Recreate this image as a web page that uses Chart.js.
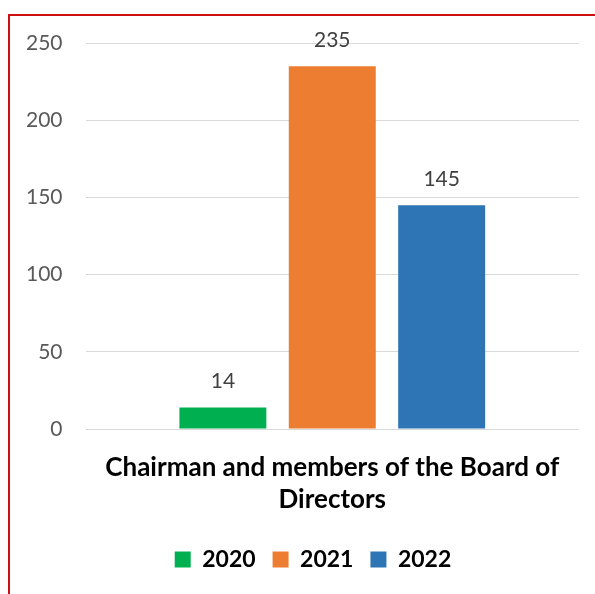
<!DOCTYPE html>
<html>
<head>
<meta charset="utf-8">
<script src="https://cdn.jsdelivr.net/npm/chart.js@4.4.1/dist/chart.umd.min.js"></script>
<style>
  html, body { margin: 0; padding: 0; background: #fff; }
  #wrap { position: relative; width: 595px; height: 594px; overflow: hidden; }
  #frame { position: absolute; left: 8px; top: 14px; width: 700px; height: 700px;
           border-left: 2px solid #cc1010; border-top: 2px solid #cc1010; box-sizing: border-box; }
  canvas { position: absolute; left: 0; top: 0; }
</style>
</head>
<body>
<div id="wrap">
  <div id="frame"></div>
  <canvas id="chart" width="595" height="594"></canvas>
</div>
<script>
// Board membership counts by year
const categories = [["Chairman and members of the Board of", "Directors"]];
const years = ["2020", "2021", "2022"];
const values2020 = [14];
const values2021 = [235];
const values2022 = [145];
const yTicks = [0, 50, 100, 150, 200, 250];

const FONT = "Lato, 'Open Sans', sans-serif";

// Writes each bar's value above it
const valueLabels = {
  id: 'valueLabels',
  afterDatasetsDraw(chart) {
    const ctx = chart.ctx;
    ctx.save();
    ctx.font = "21px " + FONT;
    ctx.fillStyle = "#404040";
    ctx.textAlign = "center";
    ctx.textBaseline = "middle";
    chart.data.datasets.forEach((ds, i) => {
      chart.getDatasetMeta(i).data.forEach((bar, j) => {
        ctx.fillText(String(ds.data[j]), bar.x, bar.y - 26);
      });
    });
    ctx.restore();
  }
};

// Nudges the legend row to the right of the canvas centre
const legendOffset = {
  id: 'legendOffset',
  afterLayout(chart) {
    if (chart.legend) {
      chart.legend.left += 22;
      chart.legend.right += 22;
    }
  }
};

new Chart(document.getElementById('chart'), {
  type: 'bar',
  data: {
    labels: categories,
    datasets: [
      { label: years[0], data: values2020, backgroundColor: '#00b050' },
      { label: years[1], data: values2021, backgroundColor: '#ed7d31' },
      { label: years[2], data: values2022, backgroundColor: '#2e75b6' }
    ]
  },
  options: {
    responsive: false,
    animation: false,
    layout: { padding: { left: 3, right: 16, top: 43, bottom: 13 } },
    datasets: { bar: { categoryPercentage: 0.665, barPercentage: 0.795 } },
    scales: {
      x: {
        grid: { display: false },
        border: { display: false },
        ticks: { color: '#000', font: { family: FONT, size: 26, weight: 'bold', lineHeight: 1.23 }, padding: 15 }
      },
      y: {
        min: 0, max: 250,
        afterBuildTicks(axis) { axis.ticks = yTicks.map(v => ({ value: v })); },
        grid: { color: '#d9d9d9', lineWidth: 1, drawTicks: false },
        border: { display: false },
        ticks: { color: '#595959', font: { family: FONT, size: 21 }, padding: 23 }
      }
    },
    plugins: {
      legend: {
        position: 'bottom',
        labels: { color: '#000', font: { family: FONT, size: 23, weight: 'bold' },
                  boxWidth: 16, boxHeight: 16, padding: 17 }
      },
      tooltip: { enabled: false }
    }
  },
  plugins: [valueLabels, legendOffset]
});
</script>
</body>
</html>
